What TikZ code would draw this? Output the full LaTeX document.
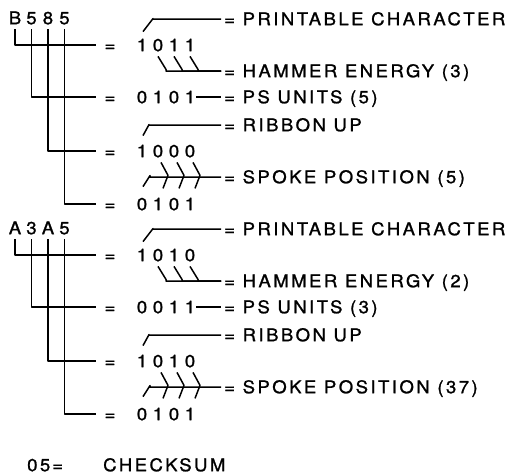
\documentclass[tikz,border=0pt]{standalone}
\usepackage{fontspec}
\newfontfamily\labfont[LetterSpace=14,FakeStretch=1.06,FakeBold=1.2]{TeX Gyre Heros}
\newfontfamily\digfont[FakeStretch=1.06,FakeBold=1.2]{TeX Gyre Heros}
\usepackage{tikz}

\begin{document}
\begin{tikzpicture}[x=1pt,y=-1pt,line join=round,
  wire/.style={line width=1.5pt},
  dig/.style={inner sep=0pt,text height=12.4pt,text depth=0pt,
    font=\digfont\fontsize{17.5}{17.5}\selectfont},
  lab/.style={anchor=west,inner xsep=3pt,inner ysep=0pt,
    text height=12.4pt,text depth=0pt,
    font=\labfont\fontsize{17.5}{17.5}\selectfont}]
\useasboundingbox (0,0) rectangle (520,474);

%% ---------------- first word: B585 ----------------------------------
\begin{scope}[name prefix=b-]
  %% hex digits and the tree hanging from them
  \foreach \c [count=\i] in {B,5,8,5}
    \node[dig] (h\i) at ({15+16.5*(\i-1)},18) {\c};
  \foreach \r/\y/\bits in {1/45/{1,0,1,1},2/97/{0,1,0,1},3/151/{1,0,0,0},4/204/{0,1,0,1}} {
    \node[dig] (e\r) at (110,\y) {=};
    \foreach \d [count=\j] in \bits
      \node[dig] (r\r-\j) at ({142+16*(\j-1)},\y) {\d};
    \draw[wire] ([yshift=-5pt]h\r.south) |- ([xshift=-8pt]e\r.west);
  }
  %% field names
  \node[lab] (print)  at (221,19)  {= PRINTABLE CHARACTER};
  \node[lab] (hammer) at (221,71)  {= HAMMER ENERGY (3)};
  \node[lab] (ps)     at (221,97)  {= PS UNITS (5)};
  \node[lab] (ribbon) at (221,125) {= RIBBON UP};
  \node[lab] (spoke)  at (221,177) {= SPOKE POSITION (5)};
  %% leaders from the bits
  \draw[wire] ([shift={(1pt,7pt)}]r1-1.north) -- ++(10,-13) |- (print.west);
  \foreach \j in {2,3,4}
    \draw[wire] ([yshift=-5pt]r1-\j.south) -- ++(8,13) |- (hammer.west);
  \draw[wire] ([xshift=1pt]r2-4.east) -- (ps.west);
  \draw[wire] ([shift={(1pt,9pt)}]r3-1.north) -- ++(6,-11) |- (ribbon.west);
  \draw[wire] ([shift={(1pt,11pt)}]r4-1.north) -- ++(7,-11) |- (spoke.west);
  \foreach \j in {2,3,4}
    \draw[wire] ([shift={(3pt,-5pt)}]r3-\j.south) -- ++(7,13) -- ++(-5,13);
\end{scope}

%% ---------------- second word: A3A5 ---------------------------------
\begin{scope}[name prefix=a-,shift={(0,210)}]
  \foreach \c [count=\i] in {A,3,A,5}
    \node[dig] (h\i) at ({15+16.5*(\i-1)},18) {\c};
  \foreach \r/\y/\bits in {1/45/{1,0,1,0},2/97/{0,0,1,1},3/151/{1,0,1,0},4/204/{0,1,0,1}} {
    \node[dig] (e\r) at (110,\y) {=};
    \foreach \d [count=\j] in \bits
      \node[dig] (r\r-\j) at ({142+16*(\j-1)},\y) {\d};
    \draw[wire] ([yshift=-5pt]h\r.south) |- ([xshift=-8pt]e\r.west);
  }
  \node[lab] (print)  at (221,19)  {= PRINTABLE CHARACTER};
  \node[lab] (hammer) at (221,71)  {= HAMMER ENERGY (2)};
  \node[lab] (ps)     at (221,97)  {= PS UNITS (3)};
  \node[lab] (ribbon) at (221,125) {= RIBBON UP};
  \node[lab] (spoke)  at (221,177) {= SPOKE POSITION (37)};
  \draw[wire] ([shift={(1pt,7pt)}]r1-1.north) -- ++(10,-13) |- (print.west);
  \foreach \j in {2,3,4}
    \draw[wire] ([yshift=-5pt]r1-\j.south) -- ++(8,13) |- (hammer.west);
  \draw[wire] ([xshift=1pt]r2-4.east) -- (ps.west);
  \draw[wire] ([shift={(1pt,9pt)}]r3-1.north) -- ++(6,-11) |- (ribbon.west);
  \draw[wire] ([shift={(1pt,11pt)}]r4-1.north) -- ++(7,-11) |- (spoke.west);
  \foreach \j in {2,3,4}
    \draw[wire] ([shift={(3pt,-5pt)}]r3-\j.south) -- ++(7,13) -- ++(-5,13);
\end{scope}

%% ---------------- checksum ------------------------------------------
\node[lab] (sum) at (24,465) {05\kern2pt=};
\node[lab] (checksum) at (100,465) {CHECKSUM};

\end{tikzpicture}
\end{document}
